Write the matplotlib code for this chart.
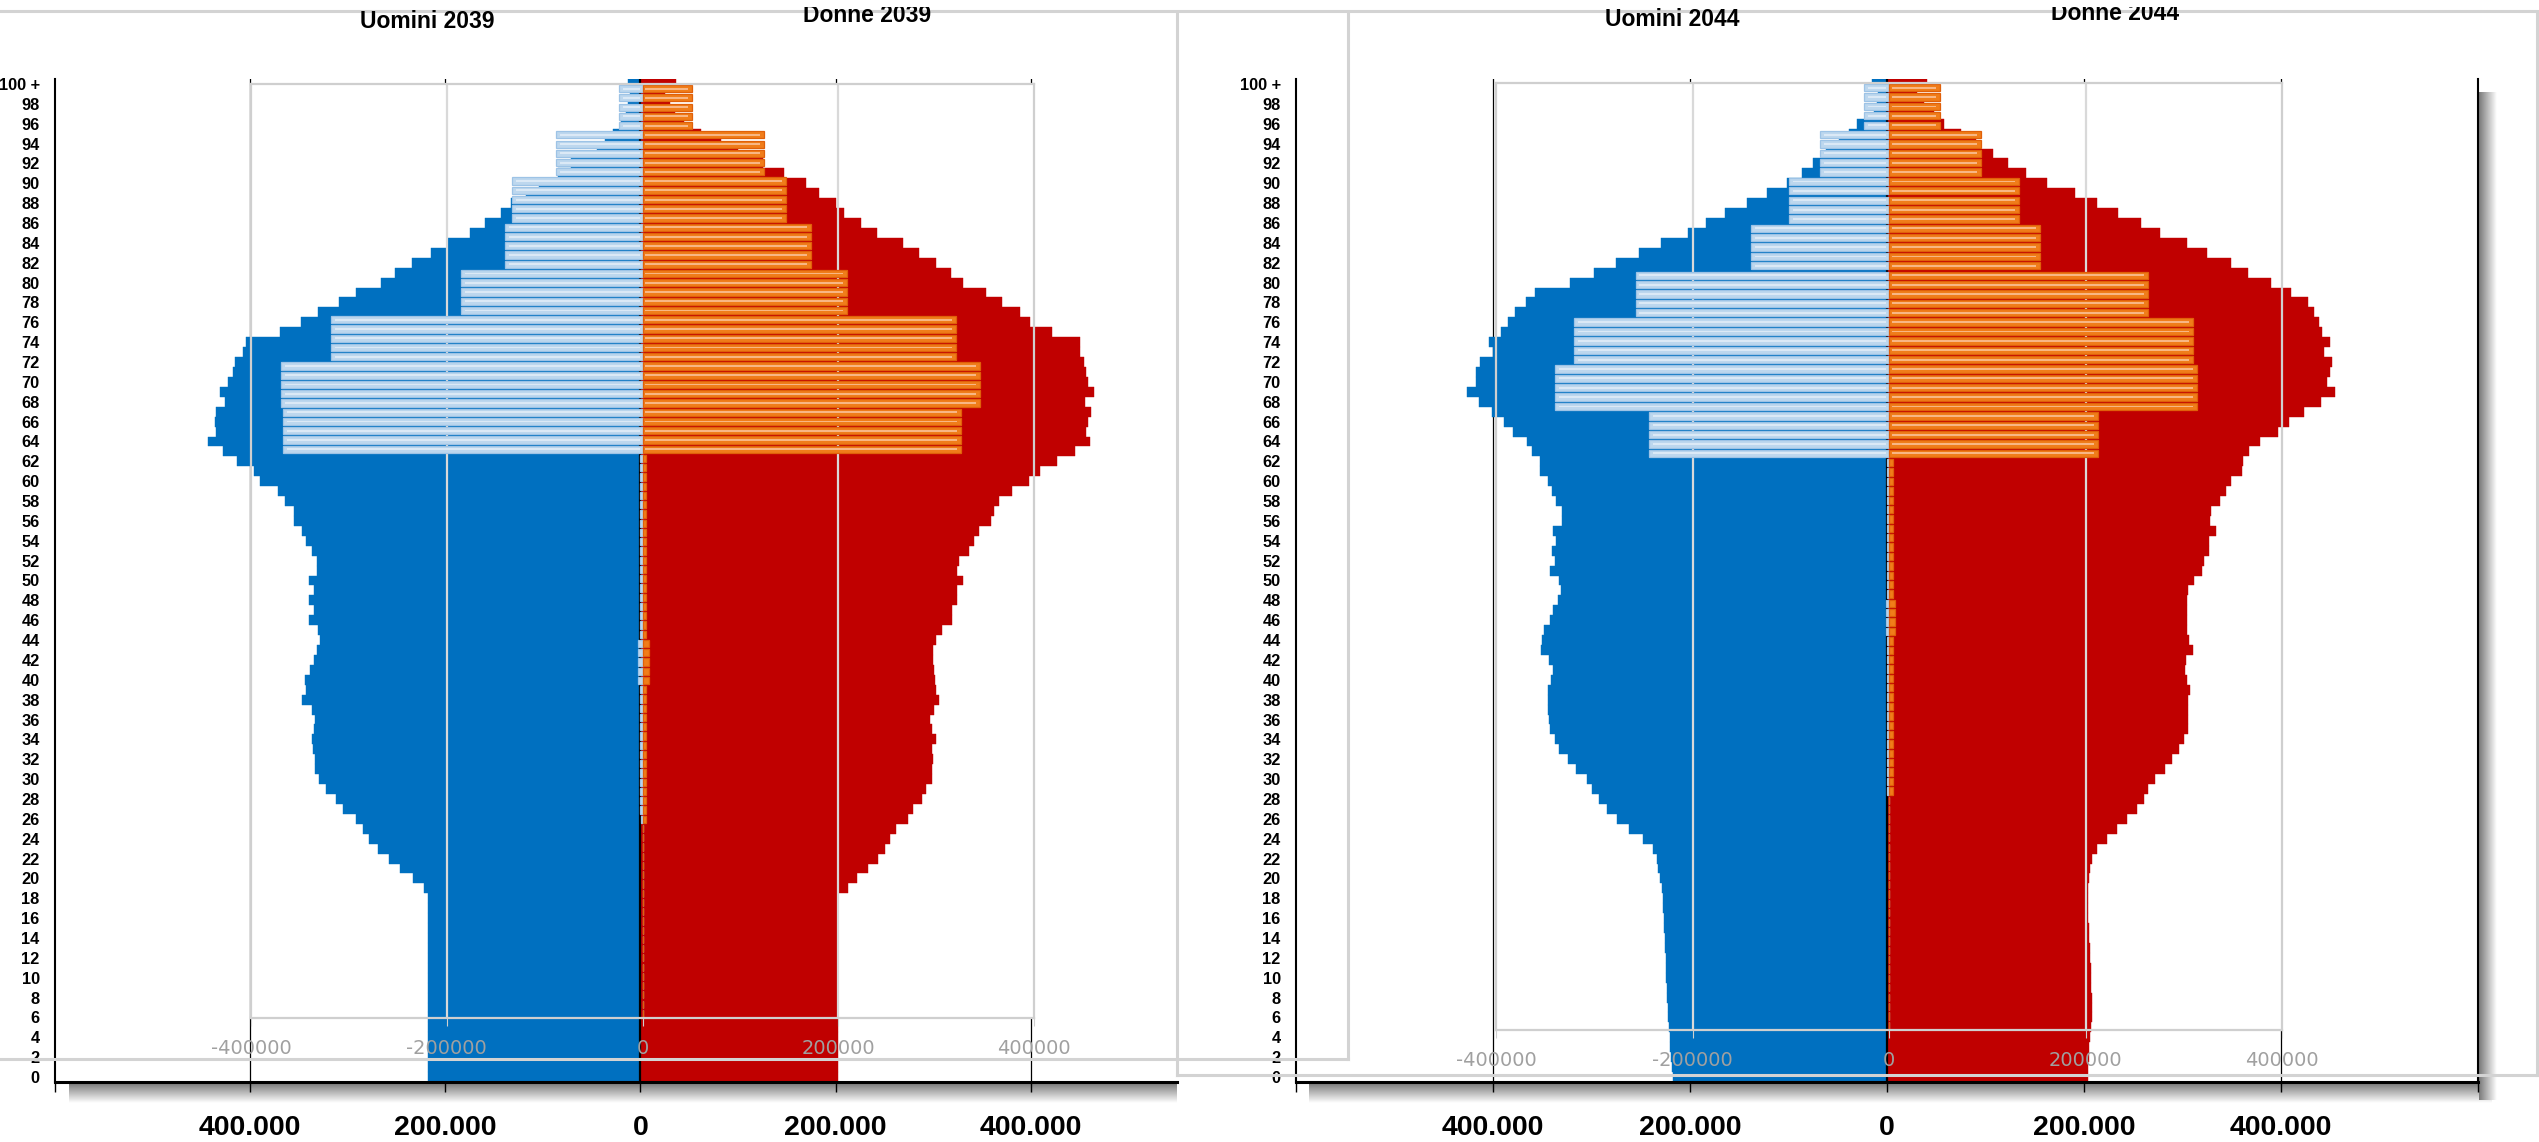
import matplotlib
matplotlib.use("Agg")
import matplotlib.pyplot as plt
import numpy as np
from matplotlib.patches import Rectangle
from matplotlib.lines import Line2D
from matplotlib.colors import LinearSegmentedColormap

# ages 0 .. 100+ (index = age)
ages = list(range(101))
age_ticks = list(range(0, 101, 2))
age_labels = [str(a) for a in range(0, 100, 2)] + ["100 +"]

men_2039 = [218000, 218000, 218000, 218000, 218000, 218000, 218000, 218000, 218000, 218000,
            218000, 218000, 218000, 218000, 218000, 218000, 218000, 218000, 218000, 222000,
            233000, 246000, 258000, 269000, 278000, 284000, 292000, 305000, 312000, 322000,
            329000, 333000, 334000, 336000, 337000, 335000, 333000, 337000, 347000, 343000,
            344000, 339000, 335000, 331000, 328000, 330000, 340000, 335000, 340000, 335000,
            340000, 331000, 331000, 337000, 343000, 347000, 355000, 355000, 364000, 371000,
            390000, 396000, 413000, 428000, 443000, 435000, 436000, 435000, 426000, 431000,
            423000, 418000, 416000, 407000, 404000, 369000, 348000, 330000, 309000, 291000,
            266000, 252000, 234000, 215000, 197000, 175000, 159000, 143000, 133000, 117000,
            104000, 84000, 71000, 44000, 36000, 28000, 20000, 15000, 13000, 11000,
            12500]
women_2039 = [203000, 203000, 203000, 203000, 203000, 203000, 203000, 203000, 203000, 203000,
              203000, 203000, 203000, 203000, 203000, 203000, 203000, 203000, 203000, 213000,
              222000, 233000, 244000, 251000, 256000, 262000, 274000, 279000, 289000, 293000,
              299000, 299000, 300000, 299000, 303000, 299000, 297000, 301000, 306000, 303000,
              302000, 301000, 300000, 300000, 303000, 309000, 319000, 319000, 324000, 324000,
              331000, 325000, 327000, 337000, 342000, 347000, 359000, 362000, 368000, 381000,
              398000, 410000, 427000, 445000, 461000, 457000, 459000, 462000, 456000, 465000,
              459000, 457000, 455000, 451000, 451000, 422000, 399000, 389000, 371000, 354000,
              331000, 318000, 303000, 286000, 269000, 243000, 226000, 209000, 200000, 183000,
              170000, 147000, 126000, 100000, 83000, 62000, 45000, 35000, 30000, 25000,
              37000]
men_2044 = [217000, 218000, 219000, 220000, 220000, 221000, 222000, 222000, 223000, 223000,
            224000, 224000, 224000, 225000, 225000, 226000, 226000, 227000, 227000, 228000,
            230000, 232000, 234000, 238000, 248000, 262000, 274000, 284000, 292000, 299000,
            305000, 316000, 324000, 333000, 337000, 342000, 343000, 344000, 344000, 344000,
            341000, 339000, 343000, 351000, 350000, 348000, 342000, 339000, 334000, 331000,
            333000, 342000, 337000, 340000, 336000, 339000, 330000, 330000, 336000, 340000,
            344000, 352000, 352000, 360000, 365000, 380000, 389000, 401000, 414000, 426000,
            417000, 417000, 413000, 400000, 404000, 392000, 385000, 378000, 366000, 357000,
            322000, 297000, 275000, 252000, 229000, 202000, 184000, 164000, 142000, 122000,
            102000, 86000, 75000, 62000, 49000, 39000, 30000, 13000, 10000, 9000,
            15000]
women_2044 = [204000, 204000, 205000, 205000, 206000, 207000, 208000, 208000, 208000, 207000,
              207000, 207000, 206000, 206000, 205000, 205000, 204000, 204000, 204000, 204000,
              205000, 206000, 208000, 213000, 223000, 233000, 244000, 254000, 261000, 265000,
              272000, 282000, 289000, 296000, 302000, 306000, 306000, 306000, 306000, 308000,
              305000, 303000, 304000, 311000, 307000, 305000, 305000, 305000, 305000, 306000,
              312000, 320000, 322000, 327000, 327000, 334000, 328000, 329000, 338000, 344000,
              349000, 360000, 361000, 368000, 379000, 397000, 408000, 423000, 441000, 455000,
              447000, 450000, 452000, 444000, 450000, 442000, 439000, 434000, 427000, 410000,
              390000, 367000, 349000, 325000, 305000, 277000, 258000, 235000, 213000, 191000,
              162000, 141000, 123000, 108000, 90000, 75000, 58000, 48000, 38000, 30000,
              40500]

# overlaid second chart (grouped values)
inner_men_2039 = [0, 0, 0, 0, 0, 0, 0, 0, 0, 0,
                  0, 0, 0, 0, 0, 0, 0, 0, 0, 0,
                  0, 2000, 2500, 2500, 2500, 2500, 3000, 3000, 3000, 3000,
                  3000, 3000, 3000, 3000, 3000, 3000, 4500, 4500, 4500, 4500,
                  4500, 3000, 3000, 3000, 3000, 3000, 3000, 3000, 3000, 3000,
                  3000, 3000, 3000, 3000, 3000, 3000, 2500, 2500, 2500, 2500,
                  2500, 367000, 367000, 367000, 367000, 367000, 369000, 369000, 369000, 369000,
                  369000, 318000, 318000, 318000, 318000, 318000, 185000, 185000, 185000, 185000,
                  185000, 140000, 140000, 140000, 140000, 140000, 133000, 133000, 133000, 133000,
                  133000, 88500, 88500, 88500, 88500, 88500, 23500, 23500, 23500, 23500,
                  23500]
inner_women_2039 = [0, 0, 0, 0, 0, 0, 0, 0, 0, 0,
                    0, 0, 0, 0, 0, 0, 0, 0, 0, 0,
                    0, 4000, 4000, 4000, 4000, 4000, 4000, 4000, 4000, 4000,
                    4000, 4000, 4000, 4000, 4000, 4000, 6500, 6500, 6500, 6500,
                    6500, 4000, 4000, 4000, 4000, 4000, 4000, 4000, 4000, 4000,
                    4000, 4000, 4000, 4000, 4000, 4000, 4000, 4000, 4000, 4000,
                    4000, 325000, 325000, 325000, 325000, 325000, 345000, 345000, 345000, 345000,
                    345000, 320000, 320000, 320000, 320000, 320000, 209000, 209000, 209000, 209000,
                    209000, 172000, 172000, 172000, 172000, 172000, 147000, 147000, 147000, 147000,
                    147000, 124500, 124500, 124500, 124500, 124500, 50500, 50500, 50500, 50500,
                    50500]
inner_men_2044 = [0, 0, 0, 0, 0, 0, 0, 0, 0, 0,
                  0, 0, 0, 0, 0, 0, 0, 0, 0, 0,
                  0, 0, 0, 0, 0, 2500, 2500, 2500, 2500, 2500,
                  2500, 2500, 2500, 2500, 2500, 2500, 2500, 2500, 2500, 2500,
                  2500, 2500, 3500, 3500, 3500, 3500, 2500, 2500, 2500, 2500,
                  2500, 2500, 2500, 2500, 2500, 2500, 2500, 2500, 2500, 2500,
                  2500, 244000, 244000, 244000, 244000, 244000, 340000, 340000, 340000, 340000,
                  340000, 321000, 321000, 321000, 321000, 321000, 258000, 258000, 258000, 258000,
                  258000, 140000, 140000, 140000, 140000, 140000, 102000, 102000, 102000, 102000,
                  102000, 70000, 70000, 70000, 70000, 70000, 25000, 25000, 25000, 25000,
                  25000]
inner_women_2044 = [0, 0, 0, 0, 0, 0, 0, 0, 0, 0,
                    0, 0, 0, 0, 0, 0, 0, 0, 0, 0,
                    0, 0, 0, 0, 0, 4500, 4500, 4500, 4500, 4500,
                    4500, 4500, 4500, 4500, 4500, 4500, 4500, 4500, 4500, 4500,
                    4500, 4500, 6500, 6500, 6500, 6500, 4500, 4500, 4500, 4500,
                    4500, 4500, 4500, 4500, 4500, 4500, 4500, 4500, 4500, 4500,
                    4500, 213000, 213000, 213000, 213000, 213000, 313000, 313000, 313000, 313000,
                    313000, 309000, 309000, 309000, 309000, 309000, 264000, 264000, 264000, 264000,
                    264000, 154000, 154000, 154000, 154000, 154000, 132000, 132000, 132000, 132000,
                    132000, 94000, 94000, 94000, 94000, 94000, 52000, 52000, 52000, 52000,
                    52000]

outer_ticks = [-600000, -400000, -200000, 0, 200000, 400000, 600000]
outer_ticklabels = ["", "400.000", "200.000", "0", "200.000", "400.000", ""]
inner_ticks = [-400000, -200000, 0, 200000, 400000]
inner_ticklabels = ["-400000", "-200000", "0", "200000", "400000"]

BLUE = "#0070c0"
RED = "#c00000"
LBLUE = "#bdd7ee"
LBLUE_EDGE = "#9dc3e6"
LBLUE_STRIPE = "#dbe9f6"
ORANGE = "#f07d1a"
ORANGE_EDGE = "#e0600a"
ORANGE_STRIPE = "#f8b684"
FRAME = "#cfcfcf"

W, H = 2539, 1142
fig = plt.figure(figsize=(W / 100, H / 100), dpi=100)

ARIAL = ["Liberation Sans", "DejaVu Sans"]
NARROW = ["Liberation Sans Narrow", "Liberation Sans", "DejaVu Sans"]


def rect(x0, y0, x1, y1):
    # pixel box (top-left origin) -> figure fraction
    return [x0 / W, 1 - y1 / H, (x1 - x0) / W, (y1 - y0) / H]


shade = LinearSegmentedColormap.from_list("shade", ["white", "#7a7a7a"])


def shadow(x0, y0, x1, y1, vertical=False):
    a = fig.add_axes(rect(x0, y0, x1, y1))
    a.axis("off")
    a.set_zorder(0)
    g = np.linspace(1, 0, 60)
    img = g[None, :] if vertical else g[:, None]
    a.imshow(img, cmap=shade, vmin=0, vmax=1, aspect="auto", extent=(0, 1, 0, 1))


def stripes(ax, vals, sign, color):
    ys = [a for a, v in zip(ages, vals) if v > 20000]
    ws = [sign * (v - 7000) for v in vals if v > 20000]
    ax.barh(ys, ws, left=sign * 3000, height=0.2, color=color, linewidth=0, zorder=3)


def panel(outer, inner, xlim, men, women, in_men, in_women, right_spine):
    ax = fig.add_axes(rect(*outer))
    ax.set_zorder(1)
    for v in [-400000, -200000, 200000, 400000]:
        ax.axvline(v, color="black", lw=0.9, zorder=0.5)
    ix0, iy0, ix1, iy1 = inner
    ax.add_patch(Rectangle((ix0 / W, 1 - iy1 / H), (ix1 - ix0) / W, (iy1 - iy0) / H,
                           transform=fig.transFigure, facecolor="white",
                           edgecolor="none", zorder=1))
    ax.barh(ages, [-v for v in men], height=1.0, color=BLUE, edgecolor=BLUE, linewidth=0.3, zorder=2)
    ax.barh(ages, women, height=1.0, color=RED, edgecolor=RED, linewidth=0.3, zorder=2)
    ax.axvline(0, color="black", lw=1.6, zorder=3)
    ax.set_yticks(age_ticks)
    ax.set_yticklabels(age_labels, family=ARIAL, fontweight="bold", fontsize=11.8)
    ax.set_xticks(outer_ticks)
    ax.set_xticklabels(outer_ticklabels, family=NARROW, fontweight="bold", fontsize=20.5)
    ax.set_xlim(*xlim)
    ax.set_ylim(-0.5, 100.5)
    ax.tick_params(axis="y", length=0, pad=11)
    ax.tick_params(axis="x", length=7, width=1, direction="out", pad=17)
    ax.spines["top"].set_visible(False)
    ax.spines["right"].set_visible(right_spine)
    ax.spines["right"].set_linewidth(1.5)
    ax.spines["left"].set_linewidth(1.5)
    ax.spines["bottom"].set_linewidth(2.2)

    ai = fig.add_axes(rect(*inner))
    ai.set_zorder(2)
    ai.patch.set_alpha(0)
    for v in [-200000, 200000]:
        ai.axvline(v, color="#d9d9d9", lw=1.6, zorder=0.5)
    ai.barh(ages, [-v for v in in_men], height=0.78, color=LBLUE, edgecolor=LBLUE_EDGE,
            linewidth=0.9, zorder=2)
    ai.barh(ages, in_women, height=0.78, color=ORANGE, edgecolor=ORANGE_EDGE,
            linewidth=0.9, zorder=2)
    stripes(ai, in_men, -1, LBLUE_STRIPE)
    stripes(ai, in_women, 1, ORANGE_STRIPE)
    ai.set_yticks([])
    ai.set_xticks(inner_ticks)
    ai.set_xticklabels(inner_ticklabels, color="#a0a0a0", fontsize=14)
    ai.set_xlim(-400000, 400000)
    ai.set_ylim(-0.5, 100.5)
    ai.tick_params(axis="x", length=6, color=FRAME, pad=9)
    for s in ai.spines.values():
        s.set_color(FRAME)
        s.set_linewidth(1.6)
    return ax


# shadows under the bottom axes
shadow(69, 1083, 1177, 1103)
shadow(1309, 1083, 2492, 1103)
shadow(2479, 92, 2497, 1100, vertical=True)

panel((55, 79, 1177, 1082), (251, 84, 1034, 1018), (-600000, 550000),
      men_2039, women_2039, inner_men_2039, inner_women_2039, False)
panel((1296, 79, 2478, 1082), (1496, 83, 2282, 1030), (-600000, 600000),
      men_2044, women_2044, inner_men_2044, inner_women_2044, True)

# titles
titles = [("Uomini 2039", 427, 22), ("Donne 2039", 867, 16),
          ("Uomini 2044", 1672, 19), ("Donne 2044", 2115, 14)]
for t, x, y in titles:
    fig.text(x / W, 1 - y / H, t, ha="center", va="center", family=ARIAL,
             fontweight="bold", fontsize=16.5, zorder=6)

# frames of the pasted pictures
LINE = "#d3d3d3"
segs = [((0, 11), (2539, 11)), ((1177, 12), (1177, 1075)), ((1348, 12), (1348, 1059)),
        ((0, 1059), (1348, 1059)), ((1177, 1075), (2537, 1075)), ((2537, 12), (2537, 1075))]
for (x0, y0), (x1, y1) in segs:
    fig.add_artist(Line2D([x0 / W, x1 / W], [1 - y0 / H, 1 - y1 / H], color=LINE, lw=2.2,
                          transform=fig.transFigure, zorder=5))
fig.add_artist(Rectangle((0, 1 - 7 / H), 1, 7 / H, transform=fig.transFigure,
                         facecolor="white", edgecolor="none", zorder=7))

fig.savefig("out.png", dpi=100)
